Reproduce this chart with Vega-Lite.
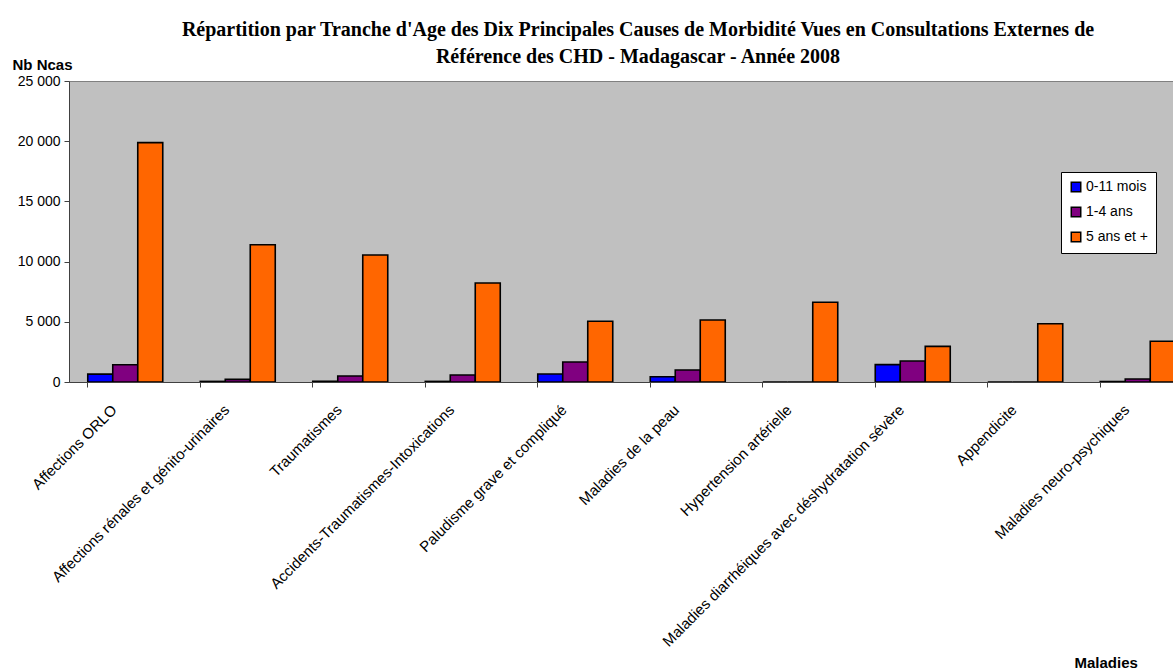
{
  "$schema": "https://vega.github.io/schema/vega-lite/v6.json",
  "width": 1104,
  "height": 301,
  "autosize": {"type": "none"},
  "padding": {"left": 69, "top": 81, "right": 0, "bottom": 288},
  "background": "white",
  "title": {
    "text": ["Répartition par Tranche d'Age des Dix Principales Causes de Morbidité Vues en Consultations Externes de", "Référence des CHD - Madagascar - Année 2008"],
    "font": "Liberation Serif",
    "fontSize": 20,
    "fontWeight": "bold",
    "lineHeight": 27,
    "anchor": "middle",
    "dx": 17,
    "offset": -10,
    "color": "black"
  },
  "data": {
    "values": [
      {"cause": "Affections ORLO", "age": "0-11 mois", "value": 650},
      {"cause": "Affections ORLO", "age": "1-4 ans", "value": 1430},
      {"cause": "Affections ORLO", "age": "5 ans et +", "value": 19880},
      {"cause": "Affections rénales et génito-urinaires", "age": "0-11 mois", "value": 50},
      {"cause": "Affections rénales et génito-urinaires", "age": "1-4 ans", "value": 220},
      {"cause": "Affections rénales et génito-urinaires", "age": "5 ans et +", "value": 11400},
      {"cause": "Traumatismes", "age": "0-11 mois", "value": 60},
      {"cause": "Traumatismes", "age": "1-4 ans", "value": 500},
      {"cause": "Traumatismes", "age": "5 ans et +", "value": 10550},
      {"cause": "Accidents-Traumatismes-Intoxications", "age": "0-11 mois", "value": 50},
      {"cause": "Accidents-Traumatismes-Intoxications", "age": "1-4 ans", "value": 580},
      {"cause": "Accidents-Traumatismes-Intoxications", "age": "5 ans et +", "value": 8220},
      {"cause": "Paludisme grave et compliqué", "age": "0-11 mois", "value": 660},
      {"cause": "Paludisme grave et compliqué", "age": "1-4 ans", "value": 1660},
      {"cause": "Paludisme grave et compliqué", "age": "5 ans et +", "value": 5040},
      {"cause": "Maladies de la peau", "age": "0-11 mois", "value": 440},
      {"cause": "Maladies de la peau", "age": "1-4 ans", "value": 1000},
      {"cause": "Maladies de la peau", "age": "5 ans et +", "value": 5150},
      {"cause": "Hypertension artérielle", "age": "0-11 mois", "value": 0},
      {"cause": "Hypertension artérielle", "age": "1-4 ans", "value": 0},
      {"cause": "Hypertension artérielle", "age": "5 ans et +", "value": 6620},
      {"cause": "Maladies diarrhéiques avec déshydratation sévère", "age": "0-11 mois", "value": 1440},
      {"cause": "Maladies diarrhéiques avec déshydratation sévère", "age": "1-4 ans", "value": 1740},
      {"cause": "Maladies diarrhéiques avec déshydratation sévère", "age": "5 ans et +", "value": 2960},
      {"cause": "Appendicite", "age": "0-11 mois", "value": 0},
      {"cause": "Appendicite", "age": "1-4 ans", "value": 0},
      {"cause": "Appendicite", "age": "5 ans et +", "value": 4840},
      {"cause": "Maladies neuro-psychiques", "age": "0-11 mois", "value": 40},
      {"cause": "Maladies neuro-psychiques", "age": "1-4 ans", "value": 250},
      {"cause": "Maladies neuro-psychiques", "age": "5 ans et +", "value": 3380}
    ]
  },
  "mark": {"type": "bar", "stroke": "black", "strokeWidth": 1.6, "clip": true},
  "encoding": {
    "x": {
      "field": "cause",
      "type": "nominal",
      "sort": null,
      "scale": {"range": [0, 1125], "paddingInner": 0.3333, "paddingOuter": 0.1667},
      "axis": {
        "title": "Maladies",
        "titleFont": "Liberation Sans",
        "titleFontSize": 15,
        "titleFontWeight": "bold",
        "titleAngle": 0,
        "titleAlign": "left",
        "titleBaseline": "alphabetic",
        "titleX": 1005,
        "titleY": 285,
        "titleColor": "black",
        "labelAngle": -45,
        "labelFont": "Liberation Sans",
        "labelFontSize": 15,
        "labelColor": "black",
        "labelPadding": 15,
        "labelOffset": -16,
        "labelLimit": 0,
        "bandPosition": 0,
        "tickSize": 5,
        "tickColor": "#404040",
        "domainColor": "#404040",
        "grid": false
      }
    },
    "xOffset": {
      "field": "age",
      "type": "nominal",
      "sort": ["0-11 mois", "1-4 ans", "5 ans et +"],
      "scale": {"paddingInner": 0, "paddingOuter": 0}
    },
    "y": {
      "field": "value",
      "type": "quantitative",
      "scale": {"domain": [0, 25000], "nice": false},
      "axis": {
        "values": [0, 5000, 10000, 15000, 20000, 25000],
        "labelExpr": "replace(format(datum.value, ','), ',', ' ')",
        "title": "Nb Ncas",
        "titleFont": "Liberation Sans",
        "titleFontSize": 15,
        "titleFontWeight": "bold",
        "titleAngle": 0,
        "titleAlign": "left",
        "titleBaseline": "alphabetic",
        "titleX": -57,
        "titleY": -12,
        "titleColor": "black",
        "labelFont": "Liberation Sans",
        "labelFontSize": 14,
        "labelColor": "black",
        "labelPadding": 4,
        "tickSize": 5,
        "tickColor": "#404040",
        "domainColor": "#404040",
        "grid": false
      }
    },
    "color": {
      "field": "age",
      "type": "nominal",
      "sort": ["0-11 mois", "1-4 ans", "5 ans et +"],
      "scale": {"domain": ["0-11 mois", "1-4 ans", "5 ans et +"], "range": ["#0000FF", "#800080", "#FF6600"]},
      "legend": {
        "title": null,
        "orient": "none",
        "legendX": 992,
        "legendY": 91,
        "fillColor": "white",
        "strokeColor": "black",
        "padding": 8,
        "rowPadding": 9,
        "symbolType": "square",
        "symbolSize": 90,
        "symbolStrokeColor": "black",
        "symbolStrokeWidth": 1.5,
        "symbolOpacity": 1,
        "labelFont": "Liberation Sans",
        "labelFontSize": 14,
        "labelColor": "black",
        "labelOffset": 3
      }
    }
  },
  "config": {
    "view": {"fill": "#C0C0C0", "stroke": "#808080", "strokeWidth": 1},
    "font": "Liberation Sans"
  }
}
